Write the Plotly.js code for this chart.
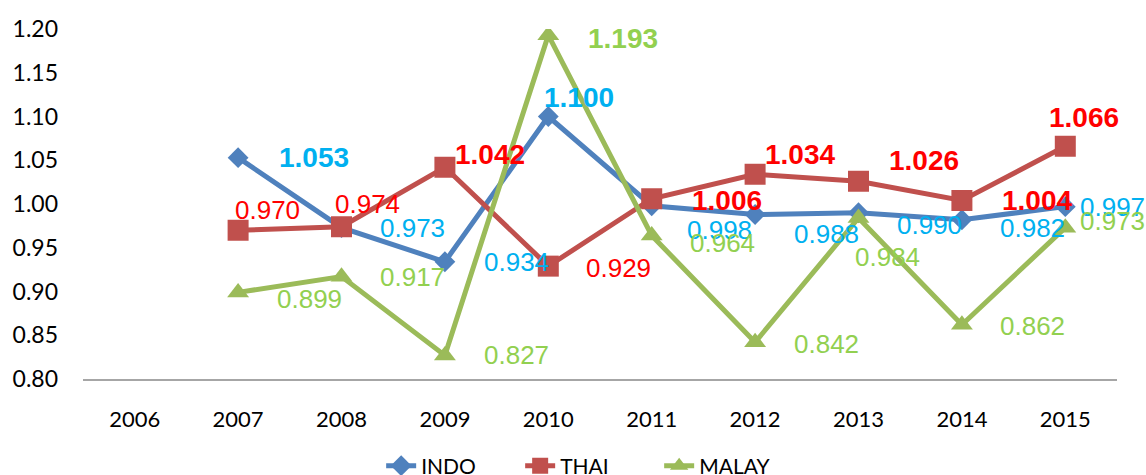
<!DOCTYPE html>
<html>
<head>
<meta charset="utf-8">
<script src="https://cdn.plot.ly/plotly-3.0.1.min.js"></script>
<style>html,body{margin:0;padding:0;background:#fff;}#chart{width:1146px;height:475px;}</style>
</head>
<body>
<div id="chart"></div>
<script>
// ---- data ----
const years = ['2006','2007','2008','2009','2010','2011','2012','2013','2014','2015'];
const indo  = [null, 1.053, 0.973, 0.934, 1.100, 0.998, 0.988, 0.990, 0.982, 0.997];
const thai  = [null, 0.970, 0.974, 1.042, 0.929, 1.006, 1.034, 1.026, 1.004, 1.066];
const malay = [null, 0.899, 0.917, 0.827, 1.193, 0.964, 0.842, 0.984, 0.862, 0.973];
const yTicks = [0.80, 0.85, 0.90, 0.95, 1.00, 1.05, 1.10, 1.15, 1.20];

// ---- label styling (pixel offsets from each point, bold flags) ----
const indoLab  = {dx:[0,39,36,37,-6,33,37,36,36,13], dy:[0,0,0,0,19,-24,-19,-12,-8,0], bold:[0,1,0,0,1,0,0,0,0,0], color:'#00B0F0'};
const thaiLab  = {dx:[0,-5,-9,8,36,38,8,28,38,-18], dy:[0,20,23,13,-2,-2,20,21,0,29], bold:[0,0,0,1,0,1,1,1,1,1], color:'#FF0000'};
const malayLab = {dx:[0,37,36,37,38,36,37,-6,36,13], dy:[0,-7,0,0,-3,-7,-2,-39,-1,7], bold:[0,0,0,0,1,0,0,0,0,0], color:'#92D050'};

function makeLabels(vals, st) {
  const out = [];
  vals.forEach(function(v, i) {
    if (v === null) return;
    const t = v.toFixed(3);
    out.push({
      x: i, y: v, xref: 'x', yref: 'y',
      text: st.bold[i] ? '<b>' + t + '</b>' : t,
      showarrow: false, xanchor: 'left', yanchor: 'middle',
      xshift: st.dx[i], yshift: st.dy[i],
      font: {family: 'Liberation Sans', size: st.bold[i] ? 28 : 26, color: st.color}
    });
  });
  return out;
}

const traces = [
  {x: years, y: indo, name: 'INDO', type: 'scatter', mode: 'lines+markers',
   line: {color: '#4F81BD', width: 5}, marker: {symbol: 'diamond', size: 16, color: '#4F81BD'}},
  {x: years, y: thai, name: 'THAI', type: 'scatter', mode: 'lines+markers',
   line: {color: '#C0504D', width: 5}, marker: {symbol: 'square', size: 21, color: '#C0504D'}},
  {x: years, y: malay, name: 'MALAY', type: 'scatter', mode: 'lines+markers',
   line: {color: '#9BBB59', width: 5}, marker: {symbol: 'triangle-up', size: 19, color: '#9BBB59'}}
];

const annots = [].concat(makeLabels(indo, indoLab), makeLabels(thai, thaiLab), makeLabels(malay, malayLab));

const layout = {
  width: 1146, height: 475,
  margin: {l: 83, r: 29, t: 29, b: 96, autoexpand: false},
  paper_bgcolor: '#fff', plot_bgcolor: '#fff',
  showlegend: true,
  legend: {orientation: 'h', x: 0.49, xanchor: 'center', y: -0.19, yanchor: 'top',
           entrywidth: 94, entrywidthmode: 'pixels',
           font: {family: 'Lato', size: 21, color: '#000'}},
  xaxis: {type: 'category', range: [-0.5, 9.5], showgrid: false, zeroline: false,
          showline: true, linecolor: '#A6A6A6', linewidth: 1.5, ticks: '',
          ticklabelstandoff: 20,
          tickfont: {family: 'Lato', size: 22, color: '#000'}},
  yaxis: {range: [0.80, 1.20], tickvals: yTicks, ticktext: yTicks.map(function(v){return v.toFixed(2);}),
          showgrid: false, zeroline: false, showline: false, ticks: '',
          ticklabelstandoff: 24,
          tickfont: {family: 'Lato', size: 23, color: '#000'}},
  annotations: annots
};

Plotly.newPlot('chart', traces, layout, {displayModeBar: false});
</script>
</body>
</html>
